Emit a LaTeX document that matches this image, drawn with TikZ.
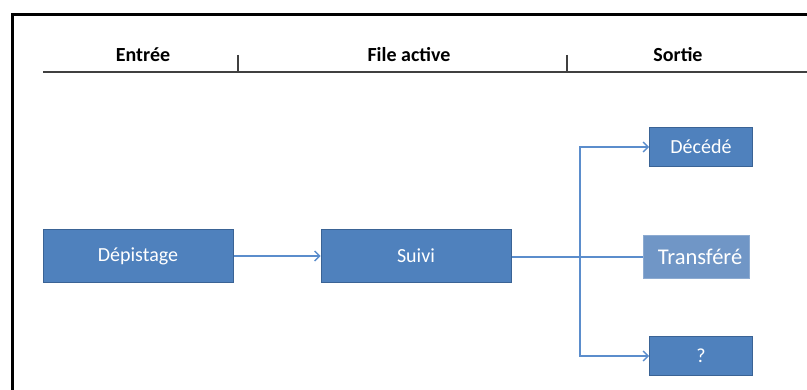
\documentclass[tikz,border=0pt]{standalone}
\usepackage{fontspec}
\setmainfont{Carlito}
\usetikzlibrary{arrows.meta}
\definecolor{boxblue}{HTML}{4F81BD}
\definecolor{boxedge}{HTML}{3A6395}
\definecolor{lightblue}{HTML}{7096C6}
\definecolor{linkblue}{HTML}{5B8DCC}
\begin{document}
\begin{tikzpicture}[x=1pt,y=-1pt,
    etape/.style={rectangle,draw=boxedge,fill=boxblue,line width=1pt,text=white,
        minimum width=190pt,minimum height=53pt,inner sep=0pt,font=\fontsize{20}{22}\selectfont},
    sortie/.style={etape,minimum width=103pt,minimum height=39pt},
    titre/.style={font=\bfseries\fontsize{20}{22}\selectfont},
    lien/.style={draw=linkblue,line width=1.3pt},
    >={Straight Barb[length=5pt,width=10pt]}]
            \useasboundingbox (0,0) rectangle (807,390);
            % cadre
            \draw[line width=3pt] (12,390) -- (12,15) -- (807,15);

            % en-tete
            \node[titre] (entree) at (143,55) {Entrée};
            \node[titre] (file) at (409,55) {File active};
            \node[titre] (sortie) at (678,55) {Sortie};
            \draw[line width=1.8pt,black!75] (43,72) -- (807,72);
            \foreach \x in {238,567}
                \draw[line width=1.2pt,black!75] (\x,55) -- (\x,72);

            % boites
            \node[etape] (depistage) at (138,256) {Dépistage};
            \node[etape] (suivi) at (416,256) {Suivi};
            \node[sortie] (decede) at (701,147) {Décédé};
            \node[sortie,fill=lightblue,draw=lightblue!80!white,minimum width=106pt,minimum height=43pt,
                font=\fontsize{22.5}{24}\selectfont] (transfere) at (696,257) {\hspace{8pt}Transféré};
            \node[sortie] (inconnu) at (701,356) {?};

            % fleches
            \coordinate (noeud) at (580,257);
            \draw[lien,->] (depistage) -- (suivi);
            \draw[lien,line width=2.4pt] (suivi.east |- noeud) -- (noeud);
            \draw[lien,->] (noeud) |- (decede.west);
            \draw[lien,->] (noeud) |- (inconnu.west);
            \draw[lien] (noeud) -- (transfere.west |- noeud);
        \end{tikzpicture}
\end{document}
